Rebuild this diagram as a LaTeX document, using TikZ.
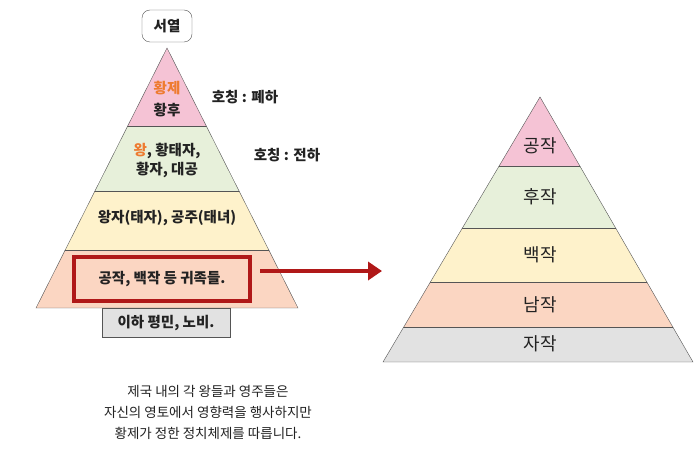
\documentclass[tikz,border=0pt]{standalone}
\usepackage{fontspec}
\setmainfont{Noto Sans CJK KR}
\usetikzlibrary{arrows.meta}
\definecolor{cpink}{HTML}{F5C3D5}
\definecolor{cgreen}{HTML}{E7F0DA}
\definecolor{cyellow}{HTML}{FEF2CB}
\definecolor{cpeach}{HTML}{FBD6C2}
\definecolor{cgray}{HTML}{E2E2E2}
\definecolor{cred}{HTML}{B01818}
\definecolor{corange}{HTML}{EE7B30}
\definecolor{cline}{HTML}{555555}
\definecolor{ctext}{HTML}{222222}
\tikzset{lbl/.style={font=\fontsize{14.5}{19}\selectfont\bfseries, text=ctext, align=center, inner sep=1pt},
 rlbl/.style={font=\fontsize{18}{20}\selectfont, text=ctext, inner sep=1pt}}
\begin{document}
\begin{tikzpicture}[x=1pt,y=-1pt]
\useasboundingbox[fill=white] (0,0) rectangle (700,457);
% left pyramid
\begin{scope}
\clip (167,48) -- (36,308) -- (298,308) -- cycle;
\fill[cpink] (0,40) rectangle (400,126);
\fill[cgreen] (0,126) rectangle (400,191);
\fill[cyellow] (0,191) rectangle (400,250);
\fill[cpeach] (0,250) rectangle (400,308);
\draw[cline] (0,126) -- (400,126) (0,191) -- (400,191) (0,250) -- (400,250);
\end{scope}
\draw[cline] (167,48) -- (36,308) -- (298,308) -- cycle;
% right pyramid
\begin{scope}
\clip (540,97) -- (383,362) -- (693,362) -- cycle;
\fill[cpink] (370,90) rectangle (700,166);
\fill[cgreen] (370,166) rectangle (700,228);
\fill[cyellow] (370,228) rectangle (700,282);
\fill[cpeach] (370,282) rectangle (700,327);
\fill[cgray] (370,327) rectangle (700,362);
\draw[cline] (370,166) -- (700,166) (370,228) -- (700,228) (370,282) -- (700,282) (370,327) -- (700,327);
\end{scope}
\draw[cline] (540,97) -- (383,362) -- (693,362) -- cycle;
% labels
\node[lbl, draw=cline, rounded corners=8pt, minimum width=50, minimum height=32] (rank) at (167,26) {서열};
\node[lbl] (emp) at (167,88) {\textcolor{corange}{황제}};
\node[lbl] (empress) at (167,110) {황후};
\node[lbl] (king) at (167,160) {\textcolor{corange}{왕}, 황태자,\\황자, 대공};
\node[lbl] (prince) at (167,218) {왕자(태자), 공주(태녀)};
\node[lbl, draw=cred, line width=4.5pt, minimum width=176, minimum height=44] (noble) at (162,279) {공작, 백작 등 귀족들.};
\node[lbl, draw=cline, fill=cgray, minimum width=128, minimum height=29] (common) at (166,323) {이하 평민, 노비.};
\node[lbl] (t1) at (245,97) {호칭 : 폐하};
\node[lbl] (t2) at (287,155) {호칭 : 전하};
\node[rlbl] (r1) at (540,146) {공작};
\node[rlbl] (r2) at (540,197) {후작};
\node[rlbl] (r3) at (540,255) {백작};
\node[rlbl] (r4) at (540,305) {남작};
\node[rlbl] (r5) at (540,344) {자작};
\coordinate (arrEnd) at (382,271);
\draw[cred, line width=4pt, -{Triangle[length=14pt,width=18pt]}] (noble.east) ++(8,-8) -- (arrEnd);
\node[lbl, font=\fontsize{13.5}{21}\selectfont] (desc) at (208,412) {제국 내의 각 왕들과 영주들은\\자신의 영토에서 영향력을 행사하지만\\황제가 정한 정치체제를 따릅니다.};
\end{tikzpicture}
\end{document}
